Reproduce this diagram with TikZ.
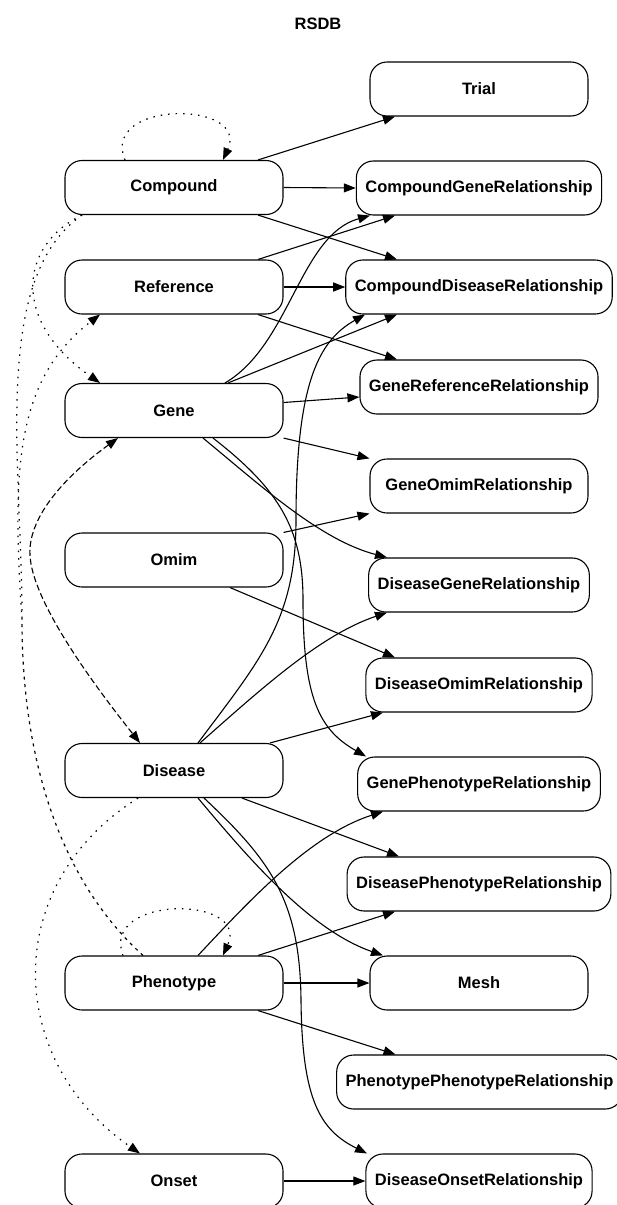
\documentclass[tikz,border=0pt]{standalone}
\usepackage{fontspec}
\setmainfont{Liberation Sans}
\usetikzlibrary{arrows.meta,calc}
\begin{document}
\begin{tikzpicture}[x=1pt,y=-1pt,
  box/.style={draw,line width=1.1pt,rounded corners=17pt,minimum width=218pt,minimum height=54pt,inner xsep=9pt,font=\bfseries\fontsize{16.5}{20}\selectfont},
  e/.style={line width=1.1pt,-{Triangle[length=12pt,width=9pt]}},
  dotl/.style={line width=1.2pt,dash pattern=on 1.5pt off 6pt},
  dshl/.style={line width=1.1pt,dash pattern=on 6pt off 3pt},
  tip/.style={-{Triangle[length=12pt,width=9pt]}},
  tips/.style={{Triangle[length=12pt,width=9pt]}-{Triangle[length=12pt,width=9pt]}}]
\useasboundingbox (0,0) rectangle (616,1205);
\node[font=\bfseries\fontsize{16.5}{20}\selectfont] (title) at (318,24) {RSDB};
% left column
\node[box] (compound) at (174,187.5) {Compound};
\node[box] (reference) at (174,287) {Reference};
\node[box] (gene) at (174,410.5) {Gene};
\node[box] (omim) at (174,560) {Omim};
\node[box] (disease) at (174,770.5) {Disease};
\node[box] (phenotype) at (174,983) {Phenotype};
\node[box] (onset) at (174,1181) {Onset};
% right column
\node[box] (trial) at (479,89) {Trial};
\node[box] (cgr) at (479,188) {CompoundGeneRelationship};
\node[box] (cdr) at (479,287) {CompoundDiseaseRelationship};
\node[box] (grr) at (479,387) {GeneReferenceRelationship};
\node[box] (gor) at (479,486) {GeneOmimRelationship};
\node[box] (dgr) at (479,585) {DiseaseGeneRelationship};
\node[box] (dor) at (479,685) {DiseaseOmimRelationship};
\node[box] (gpr) at (479,784) {GenePhenotypeRelationship};
\node[box] (dpr) at (479,884) {DiseasePhenotypeRelationship};
\node[box] (mesh) at (479,983) {Mesh};
\node[box] (ppr) at (479.5,1082) {PhenotypePhenotypeRelationship};
\node[box] (donsr) at (479,1181) {DiseaseOnsetRelationship};
% solid edges
\draw[e] ($(compound.north)+(84,0)$) -- ($(trial.south)+(-84,0)$);
\draw[e] (compound.east) -- (cgr.west);
\draw[e] ($(compound.south)+(84,0)$) -- ($(cdr.north)+(-82,0)$);
\draw[e] ($(reference.north)+(84,0)$) -- ($(cgr.south)+(-84,0)$);
\draw[e] (reference.east) -- (cdr.west);
\draw[e] ($(reference.south)+(84,0)$) -- ($(grr.north)+(-82,0)$);
\draw[e] ($(gene.north)+(51,0)$) .. controls (290,345) and (300,235) .. ($(cgr.south)+(-109,0)$);
\draw[e] ($(gene.north)+(54,0)$) -- ($(cdr.south)+(-82,0)$);
\draw[e] ($(gene.east)+(0,-8)$) -- ($(grr.west)+(0,10)$);
\draw[e] (gene.south east) -- (gor.north west);
\draw[e] ($(gene.south)+(29,0)$) .. controls (260,485) and (320,540) .. ($(dgr.north)+(-92,0)$);
\draw[e] ($(gene.south)+(39,0)$) .. controls (280,490) and (303,530) .. (303,600) .. controls (303,700) and (320,730) .. ($(gpr.north)+(-113,0)$);
\draw[e] (omim.north east) -- (gor.south west);
\draw[e] ($(omim.south)+(56,0)$) -- ($(dor.north)+(-84,0)$);
\draw[e] ($(disease.north)+(24,0)$) .. controls (260,660) and (296,620) .. (296,520) .. controls (296,380) and (320,340) .. ($(cdr.south)+(-114,0)$);
\draw[e] ($(disease.north)+(26,0)$) .. controls (260,690) and (320,635) .. ($(dgr.south)+(-92,0)$);
\draw[e] ($(disease.north)+(96,0)$) -- ($(dor.south)+(-96,0)$);
\draw[e] ($(disease.south)+(68,0)$) -- ($(dpr.north)+(-80,0)$);
\draw[e] ($(disease.south)+(24,0)$) .. controls (250,860) and (310,930) .. ($(mesh.north)+(-96,0)$);
\draw[e] ($(disease.south)+(30,0)$) .. controls (270,860) and (300,900) .. (301,1000) .. controls (302,1100) and (320,1130) .. ($(donsr.north)+(-112,0)$);
\draw[e] ($(phenotype.north)+(24,0)$) .. controls (250,900) and (310,835) .. ($(gpr.south)+(-96,0)$);
\draw[e] ($(phenotype.north)+(84,0)$) -- ($(dpr.south)+(-84,0)$);
\draw[e] (phenotype.east) -- (mesh.west);
\draw[e] ($(phenotype.south)+(84,0)$) -- ($(ppr.north)+(-84,0)$);
\draw[e] (onset.east) -- (donsr.west);
% dotted edges
\draw[dotl,tip] ($(compound.north)+(-49,0)$) .. controls (100,100) and (250,100) .. ($(compound.north)+(49,0)$);
\draw[dotl,tip] ($(phenotype.north)+(-51,0)$) .. controls (100,895) and (250,895) .. ($(phenotype.north)+(49,0)$);
\draw[dotl,tip] ($(compound.south)+(-92,0)$) .. controls (20,245) and (10,320) .. ($(gene.north)+(-74,0)$);
\draw[dotl] ($(compound.south)+(-92,0)$) .. controls (25,255) and (15,340) .. (17,450) .. controls (19,530) and (22,560) .. (22,620) .. controls (22,760) and (60,880) .. ($(phenotype.north)+(-31,0)$);
\draw[dotl,tip] ($(phenotype.north)+(-31,0)$) .. controls (60,880) and (22,760) .. (22,620) .. controls (12,470) and (15,380) .. ($(reference.south)+(-74,0)$);
\draw[dotl,tip] ($(disease.south)+(-36,0)$) .. controls (0,885) and (5,1060) .. ($(onset.north)+(-34,0)$);
% dashed edge
\draw[dshl,tips] ($(gene.south)+(-56,0)$) .. controls (60,480) and (28,520) .. (30,555) .. controls (32,600) and (90,680) .. ($(disease.north)+(-34,0)$);
\end{tikzpicture}
\end{document}
